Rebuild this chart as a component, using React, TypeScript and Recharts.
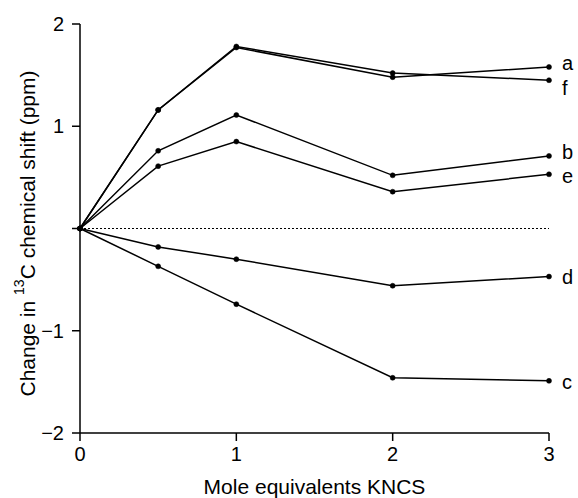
import React from 'react';
import { LineChart, Line, XAxis, YAxis, ReferenceLine, LabelList } from 'recharts';

// mole equivalents of KNCS added
const moleEquivalents = [0, 0.5, 1, 2, 3];

// change in 13C chemical shift (ppm) per carbon
const shiftA = [0, 1.16, 1.77, 1.48, 1.58];
const shiftF = [0, 1.16, 1.78, 1.52, 1.45];
const shiftB = [0, 0.76, 1.11, 0.52, 0.71];
const shiftE = [0, 0.61, 0.85, 0.36, 0.53];
const shiftD = [0, -0.18, -0.3, -0.56, -0.47];
const shiftC = [0, -0.37, -0.74, -1.46, -1.49];

const xTicks = [0, 1, 2, 3];
const yTicks = [-2, -1, 0, 1, 2];

const seriesNames = ['a', 'f', 'b', 'e', 'd', 'c'];

// vertical nudge of the end labels so neighbours don't collide
const labelNudge: Record<string, number> = { a: -4, f: 8, b: -4, e: 2, d: 0, c: 1 };

const FONT = '"Liberation Sans", Arial, Helvetica, sans-serif';

const rows = moleEquivalents.map((x, i) => ({
  x,
  a: shiftA[i],
  f: shiftF[i],
  b: shiftB[i],
  e: shiftE[i],
  d: shiftD[i],
  c: shiftC[i],
}));

const lastIndex = moleEquivalents.length - 1;

const fmtY = (v: number) => {
  if (v === 0) return '';
  return v < 0 ? `\u2212${Math.abs(v)}` : `${v}`;
};

const YTitle = (props: any) => {
  const vb = props.viewBox || { x: 0, y: 0, width: 0, height: 0 };
  const cx = 27;
  const cy = vb.y + vb.height / 2 + 5;
  return (
    <text
      x={cx}
      y={cy}
      transform={`rotate(-90 ${cx} ${cy})`}
      textAnchor="middle"
      dominantBaseline="central"
      fontFamily={FONT}
      fontSize={21}
      fill="#000"
    >
      Change in{' '}
      <tspan dy={-8} fontSize={14}>
        13
      </tspan>
      <tspan dy={8}>C chemical shift (ppm)</tspan>
    </text>
  );
};

export default function App() {
  return (
    <div style={{ position: 'absolute', left: 0, top: 0, background: '#fff' }}>
      <LineChart
        width={578}
        height={498}
        data={rows}
        margin={{ top: 24, right: 29, bottom: 0, left: 0 }}
      >
        <XAxis
          dataKey="x"
          type="number"
          domain={[0, 3]}
          ticks={xTicks}
          height={65}
          tickSize={8}
          tickMargin={6}
          stroke="#000"
          strokeWidth={1.5}
          tick={{ fill: '#000', fontSize: 20, fontFamily: FONT }}
          label={{
            value: 'Mole equivalents KNCS',
            position: 'insideBottom',
            offset: 4,
            fill: '#000',
            fontSize: 21,
            fontFamily: FONT,
          }}
        />
        <YAxis
          type="number"
          domain={[-2, 2]}
          ticks={yTicks}
          width={80}
          tickSize={8}
          tickMargin={8}
          tickFormatter={fmtY}
          stroke="#000"
          strokeWidth={1.5}
          tick={{ fill: '#000', fontSize: 20, fontFamily: FONT }}
          label={{ content: YTitle }}
        />
        <ReferenceLine y={0} stroke="#000" strokeWidth={1} strokeDasharray="2 2" />
        {seriesNames.map((name) => (
          <Line
            key={name}
            dataKey={name}
            type="linear"
            stroke="#000"
            strokeWidth={1.5}
            dot={{ r: 2.5, fill: '#000', stroke: '#000', strokeWidth: 0.5 }}
            isAnimationActive={false}
          >
            <LabelList
              dataKey={name}
              content={(p: any) =>
                p.index === lastIndex ? (
                  <text
                    x={p.x + 13}
                    y={p.y + labelNudge[name]}
                    dominantBaseline="central"
                    fontFamily={FONT}
                    fontSize={20}
                    fill="#000"
                  >
                    {name}
                  </text>
                ) : null
              }
            />
          </Line>
        ))}
      </LineChart>
    </div>
  );
}
